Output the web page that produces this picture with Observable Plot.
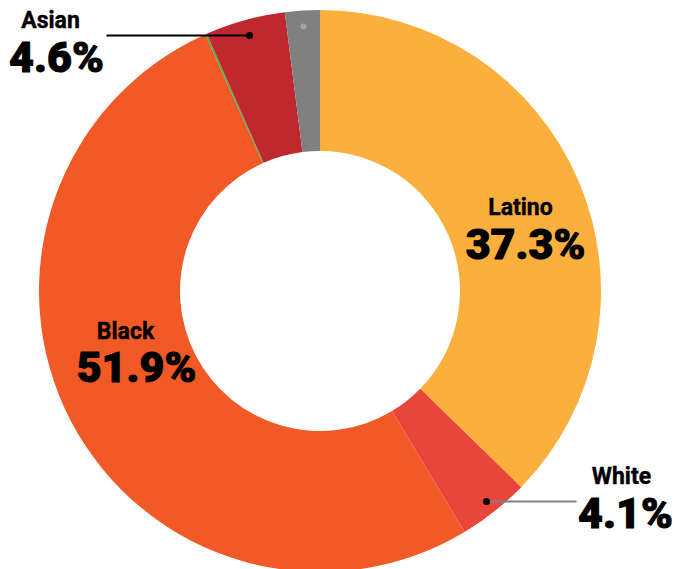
<!DOCTYPE html>
<html>
<head>
<meta charset="utf-8">
<script src="https://cdn.jsdelivr.net/npm/d3@7"></script>
<script src="https://cdn.jsdelivr.net/npm/@observablehq/plot@0.6"></script>
<style>
  html, body { margin: 0; padding: 0; background: #fff; }
  #chart svg { display: block; }
</style>
</head>
<body>
<div id="chart"></div>
<script>
// ---- Data (clockwise from 12 o'clock) ----
const categories = ["Latino", "White", "Black", "Native American", "Asian", "Other"];
const shares = [37.3, 4.1, 51.9, 0.1, 4.6, 2.0];
const colors = ["#FBAF3D", "#E9453B", "#F15A26", "#3DB54A", "#C1272F", "#808080"];

// Labelled categories and their printed values
const labelCats = ["Latino", "Black", "Asian", "White"];
const labelVals = ["37.3%", "51.9%", "4.6%", "4.1%"];

// ---- Layout (pixel-space offsets from donut centre, y up) ----
const W = 678, H = 569;
const CX = 320, CY = 291, R_OUT = 281, R_IN = 140;
const namePos = [[200, 84], [-195, -40], [-270, 270.5], [301, -185.5]];
const valPos  = [[205, 46.5], [-184, -77], [-264, 233], [305, -222.5]];

const names = labelCats.map((c, i) => ({label: c, x: namePos[i][0], y: namePos[i][1]}));
const vals = labelVals.map((v, i) => ({label: v, x: valPos[i][0], y: valPos[i][1]}));
const leaders = [
  {x1: -214, x2: -71, y: 256, color: "#000"},
  {x1: 166, x2: 256, y: -210, color: "#808080"}
];
const leaderDots = [{x: -71, y: 256}, {x: 166, y: -210}];

function donut(index, scales) {
  const {x, y} = scales;
  const cx = x(0), cy = y(0);
  const R = x(R_OUT) - x(0), r0 = x(R_IN) - x(0);
  const arcs = d3.pie().sort(null).value(d => d)(shares);
  const arc = d3.arc().innerRadius(r0).outerRadius(R);
  const g = d3.create("svg:g").attr("transform", `translate(${cx},${cy})`);
  g.selectAll("path")
    .data(arcs)
    .join("path")
    .attr("d", arc)
    .attr("fill", (d, i) => colors[i]);
  return g.node();
}

const chart = Plot.plot({
  width: W,
  height: H,
  margin: 0,
  x: {domain: [-CX, W - CX], axis: null},
  y: {domain: [CY - H, CY], axis: null},
  style: {fontFamily: "Roboto, 'DejaVu Sans', sans-serif", background: "#fff"},
  marks: [
    donut,
    Plot.dot([{x: -17, y: 265}], {x: "x", y: "y", r: 3, fill: "#a6a6a6"}),
    Plot.link(leaders, {x1: "x1", x2: "x2", y1: "y", y2: "y", stroke: d => d.color, strokeWidth: 2}),
    Plot.dot(leaderDots, {x: "x", y: "y", r: 3.5, fill: "#000"}),
    Plot.text(names, {x: "x", y: "y", text: "label", fontSize: 23, fontWeight: 700, fill: "#000", stroke: "#000", strokeWidth: 0.4, textAnchor: "middle", lineAnchor: "middle"}),
    Plot.text(vals, {x: "x", y: "y", text: "label", fontSize: 43, fontWeight: 900, fill: "#000", stroke: "#000", strokeWidth: 1, textAnchor: "middle", lineAnchor: "middle"})
  ]
});
document.getElementById("chart").append(chart);
</script>
</body>
</html>
